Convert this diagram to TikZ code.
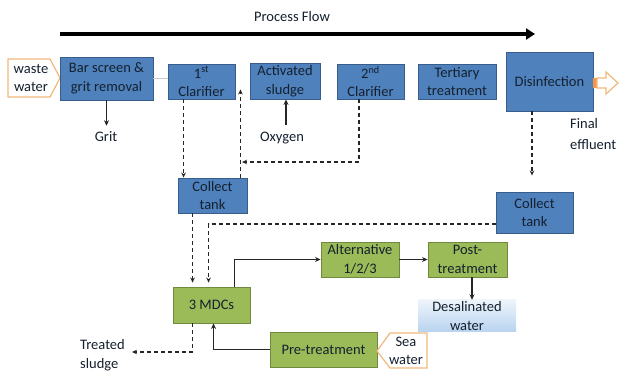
\documentclass[tikz,border=0pt]{standalone}
\usepackage{fontspec}
\setmainfont{Carlito}
\usetikzlibrary{arrows.meta}
\definecolor{bfill}{HTML}{4F81BD}
\definecolor{bdraw}{HTML}{385D8A}
\definecolor{gfill}{HTML}{9BBB59}
\definecolor{gdraw}{HTML}{71893F}
\definecolor{odraw}{HTML}{F2B77A}
\definecolor{ofill}{HTML}{F79646}
\definecolor{txt}{HTML}{14202E}
\definecolor{lnc}{HTML}{262626}
\definecolor{desT}{HTML}{EEF4FB}
\definecolor{desB}{HTML}{B8D3F0}
\begin{document}
\begin{tikzpicture}[x=1pt,y=-1pt,font=\fontsize{14.5}{18.5}\selectfont]
\tikzset{
  bbox/.style={draw=bdraw,fill=bfill,line width=0.9pt,align=center,inner sep=0pt,text=txt},
  gbox/.style={draw=gdraw,fill=gfill,line width=0.9pt,align=center,inner sep=0pt,text=txt},
  lbl/.style={align=center,inner sep=1pt,text=txt},
  dsh/.style={draw=lnc,dash pattern=on 4pt off 3pt,line width=1.1pt,-{Stealth[length=5pt,width=4.5pt]}},
  sol/.style={draw=lnc,line width=1.1pt,-{Stealth[length=5.5pt,width=5pt]}},
  pent/.style={draw=odraw,fill=white,line width=1.2pt}
}
\useasboundingbox (0,0) rectangle (619,374);
\fill[white] (0,0) rectangle (619,374);

% process flow
\node[lbl] (pft) at (292,17) {Process Flow};
\coordinate (pf1) at (60,34);
\coordinate (pf2) at (535,34);
\draw[line width=3.5pt,-{Triangle[length=9pt,width=11pt]}] (pf1) -- (pf2);

% waste water input
\draw[pent] (8,59) -- (50,59) -- (60,78) -- (50,97) -- (8,97) -- cycle;
\node[lbl] (ww) at (31,78) {waste\\water};

% top row
\node[bbox,minimum width=93,minimum height=43] (bar) at (106.5,78.5) {Bar screen \&\\grit removal};
\node[bbox,minimum width=67,minimum height=35] (c1) at (201.5,81.5) {1\textsuperscript{st}\\Clarifier};
\node[bbox,minimum width=70,minimum height=36] (as) at (285,81) {Activated\\sludge};
\node[bbox,minimum width=67,minimum height=35] (c2) at (370.5,81.5) {2\textsuperscript{nd}\\Clarifier};
\node[bbox,minimum width=78,minimum height=35] (tt) at (457,81.5) {Tertiary\\treatment};
\node[bbox,minimum width=87,minimum height=59] (dis) at (549.5,81.5) {Disinfection};

% output hollow arrow
\fill[ofill] (593,78) rectangle (597,88);
\draw[pent,draw=odraw] (597,78) -- (606,78) -- (606,72) -- (618,83) -- (606,94) -- (606,88) -- (597,88) -- cycle;
\node[lbl,align=left,anchor=north west] (fe) at (569,117) {Final\\[3pt]effluent};

\draw[gray!40,line width=1pt] (bar.east) -- (bar.east -| c1.west);

% grit and oxygen
\node[lbl] (grit) at (106,137) {Grit};
\draw[sol,shorten >=5pt] (bar.south) -- (bar.south |- grit.north);
\node[lbl] (oxy) at (282,138) {Oxygen};
\draw[sol,shorten <=6pt] ([xshift=1pt]as.south |- oxy.north) -- ([xshift=1pt]as.south);

% collect tanks
\node[bbox,minimum width=69,minimum height=35] (ct1) at (212.5,195.5) {Collect\\tank};
\node[bbox,minimum width=77,minimum height=41] (ct2) at (534.5,212.5) {Collect\\tank};

% dashed sludge lines
\draw[dsh] ([xshift=16pt]c1.south west) -- ([xshift=16pt]c1.south west |- ct1.north);
\coordinate (c1in) at ([xshift=5pt,yshift=10pt]c1.south east);
\draw[dsh] ([xshift=-7pt]ct1.north east) -- (c1in);
\coordinate (j1) at (242,162);
\draw[dsh] ([xshift=-11.5pt]c2.south) |- (j1);
\draw[dsh,shorten >=16pt] ([xshift=-17.5pt]dis.south) -- ([xshift=-17.5pt]dis.south |- ct2.north);

% lower part
\node[gbox,minimum width=77,minimum height=36] (mdc) at (211.5,305) {3 MDCs};
\node[gbox,minimum width=78,minimum height=35] (alt) at (360,259.5) {Alternative\\1/2/3};
\node[gbox,minimum width=79,minimum height=35] (post) at (467.5,259.5) {Post-\\treatment};
\node[align=center,inner sep=0pt,text=txt,minimum width=98,minimum height=32,top color=desT,bottom color=desB] (des) at (467,316) {Desalinated\\water};
\node[gbox,minimum width=107,minimum height=35] (pre) at (323.5,349.5) {Pre-treatment};

\draw[pent] (377,351) -- (390,333) -- (427,333) -- (427,368) -- (390,368) -- cycle;
\node[lbl] (sea) at (406,351) {Sea\\water};

\draw[dsh,shorten >=4pt] ([xshift=15pt]ct1.south west) -- ([xshift=15pt]ct1.south west |- mdc.north);
\draw[dsh,shorten >=4pt] ([yshift=-11.5pt]ct2.west) -| ([xshift=36pt]mdc.north west);

\draw[sol] ([xshift=-16pt]mdc.north east) |- (alt.west);
\draw[sol] (alt.east) -- (post.west);
\draw[sol] ([xshift=4.5pt]post.south) -- ([xshift=4.5pt]post.south |- des.north);
\draw[sol] (pre.west) -| ([xshift=41pt]mdc.south west);

\node[lbl,align=left,anchor=north west] (ts) at (79,338) {Treated\\[1pt]sludge};
\coordinate (tsa) at (132,352);
\draw[dsh] ([xshift=20pt]mdc.south west) |- (tsa);
\end{tikzpicture}
\end{document}
